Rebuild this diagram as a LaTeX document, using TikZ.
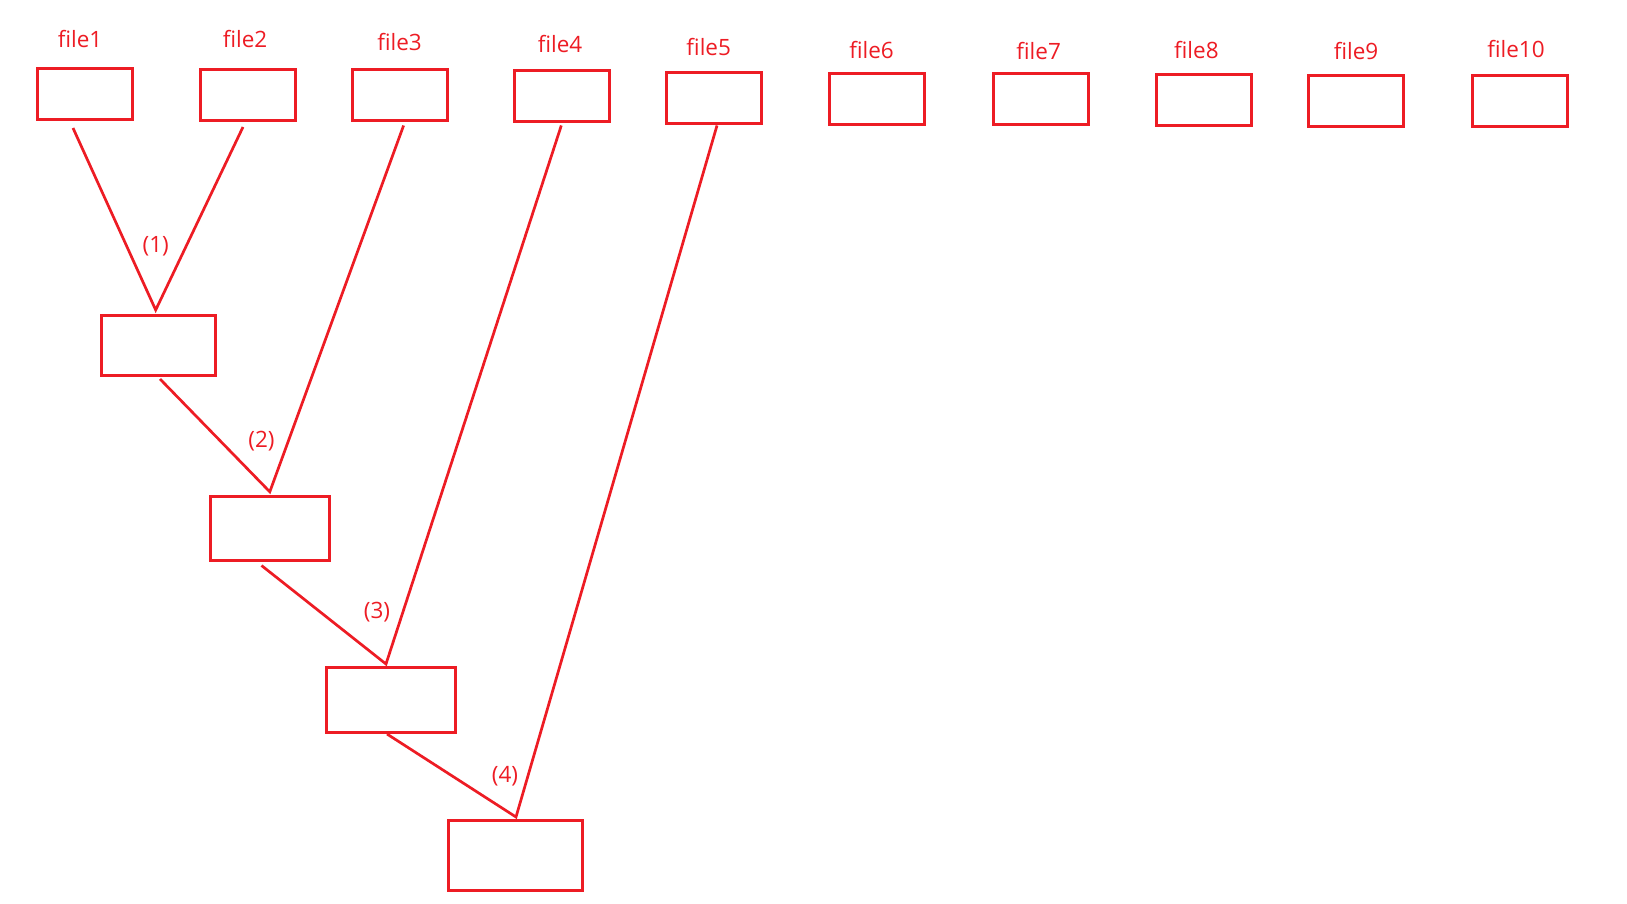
\documentclass[tikz,border=0pt]{standalone}
\usepackage{fontspec}
\setmainfont{Open Sans}
\definecolor{pred}{RGB}{237,28,36}
\begin{document}
\begin{tikzpicture}[x=1pt,y=-1pt,
  box/.style={draw=pred,line width=3pt,minimum width=95pt,minimum height=51pt,inner sep=0pt},
  lbl/.style={text=pred,font=\fontsize{22.5}{26}\selectfont,inner sep=0pt},
  conn/.style={draw=pred,line width=2.7pt}]
\useasboundingbox (0,0) rectangle (1627,904);
% top file boxes
\node[box] (f1) at (85,94.2) {};
\node[box] (f2) at (248,95) {};
\node[box] (f3) at (399.5,95.5) {};
\node[box] (f4) at (562.4,96.5) {};
\node[box] (f5) at (713.8,97.6) {};
\node[box] (f6) at (876.8,98.6) {};
\node[box] (f7) at (1040.8,98.6) {};
\node[box] (f8) at (1203.6,99.6) {};
\node[box] (f9) at (1356.2,100.7) {};
\node[box] (f10) at (1520,101.3) {};
% labels
\node[lbl] (t1) at (80,39.4) {file1};
\node[lbl] (t2) at (245,39.4) {file2};
\node[lbl] (t3) at (399.5,42.5) {file3};
\node[lbl] (t4) at (560,43.6) {file4};
\node[lbl] (t5) at (708.7,46.7) {file5};
\node[lbl] (t6) at (871.6,49.8) {file6};
\node[lbl] (t7) at (1038.6,50.8) {file7};
\node[lbl] (t8) at (1196.4,49.8) {file8};
\node[lbl] (t9) at (1356,50.8) {file9};
\node[lbl] (t10) at (1516,48.8) {file10};
% merge boxes
\node[box,minimum width=114pt,minimum height=60pt] (m1) at (158.4,345.5) {};
\node[box,minimum width=119pt,minimum height=63.6pt] (m2) at (270.3,528.2) {};
\node[box,minimum width=129pt,minimum height=65pt] (m3) at (390.9,699.9) {};
\node[box,minimum width=134.3pt,minimum height=70.3pt] (m4) at (515.5,855.5) {};
% connector endpoints
\coordinate (s1) at (73,128);
\coordinate (s2) at (243,127);
\coordinate (a1) at (155.7,310);
\coordinate (b1) at (160,379);
\coordinate (s3) at (403.6,125.5);
\coordinate (a2) at (269.8,491.8);
\coordinate (b2) at (261.5,565.5);
\coordinate (s4) at (561.3,125.5);
\coordinate (a3) at (386,664);
\coordinate (b3) at (387,734);
\coordinate (s5) at (717,125.5);
\coordinate (a4) at (516,817);
\draw[conn] (s1) -- (a1) -- (s2);
\draw[conn] (b1) -- (a2) -- (s3);
\draw[conn] (b2) -- (a3) -- (s4);
\draw[conn] (b3) -- (a4) -- (s5);
% step labels
\node[lbl] (n1) at (155.7,246.7) {(1)};
\node[lbl] (n2) at (261.5,441) {(2)};
\node[lbl] (n3) at (377,612) {(3)};
\node[lbl] (n4) at (505,776) {(4)};
\end{tikzpicture}
\end{document}
